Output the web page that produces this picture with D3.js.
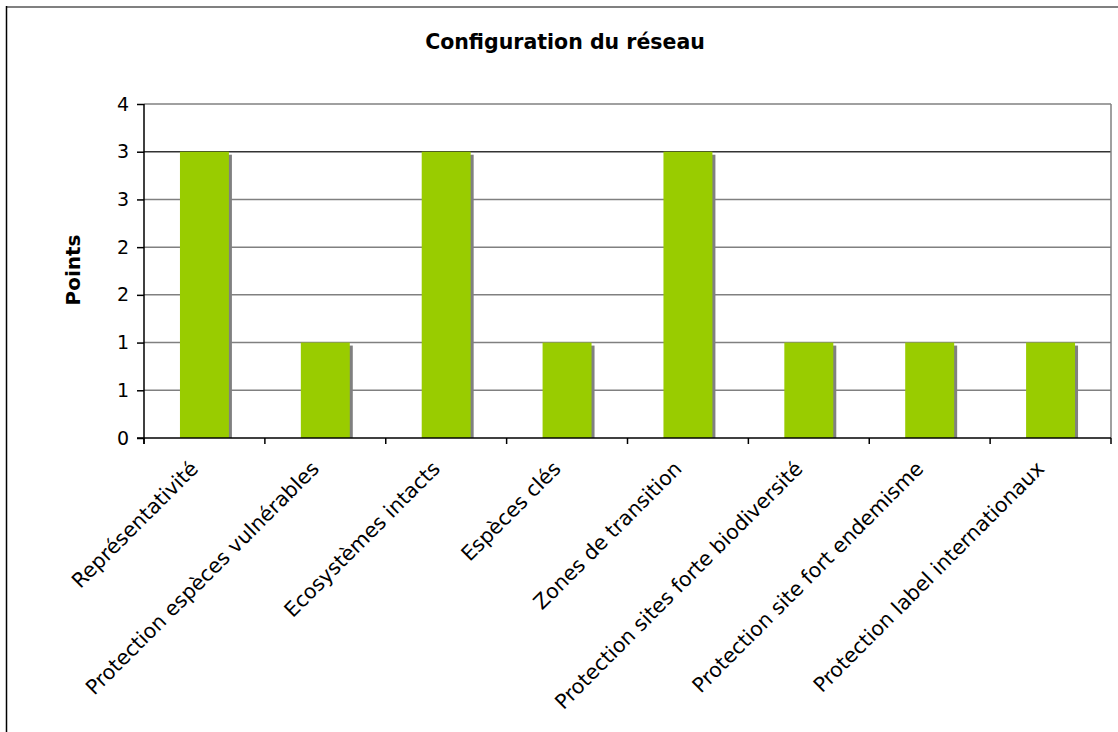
<!DOCTYPE html>
<html>
<head>
<meta charset="utf-8">
<script src="https://cdn.jsdelivr.net/npm/d3@7"></script>
<style>
  body { margin: 0; background: #fff; }
  svg { display: block; }
  text { font-family: "DejaVu Sans", Verdana, sans-serif; fill: #000; }
</style>
</head>
<body>
<svg id="chart"></svg>
<script>
// data
const categories = [
    "Représentativité",
    "Protection espèces vulnérables",
    "Ecosystèmes intacts",
    "Espèces clés",
    "Zones de transition",
    "Protection sites forte biodiversité",
    "Protection site fort endemisme",
    "Protection label internationaux"
];
const points = [3, 1, 3, 1, 3, 1, 1, 1];
const tickValues = [0, 0.5, 1, 1.5, 2, 2.5, 3, 3.5];
const tickLabels = ["0", "1", "1", "2", "2", "3", "3", "4"];

const W = 1118, H = 732;
const plot = {left: 144, right: 1111, top: 104, bottom: 438};

let svg = d3.select("#chart").attr("width", W).attr("height", H);

// outer frame (only left and top edges show)
svg.append("line")
    .attr("x1", 6).attr("x2", W).attr("y1", 7).attr("y2", 7)
    .attr("stroke", "#808080").attr("stroke-width", 2);
svg.append("line")
    .attr("x1", 6.5).attr("x2", 6.5).attr("y1", 6).attr("y2", H)
    .attr("stroke", "#000").attr("stroke-width", 1.5);

// title
svg.append("text")
    .attr("x", 565).attr("y", 49)
    .attr("text-anchor", "middle")
    .style("font-weight", "bold").style("font-size", "20.5px")
    .text("Configuration du réseau");

// y label
svg.append("text")
    .attr("transform", "translate(80,270) rotate(-90)")
    .attr("text-anchor", "middle")
    .style("font-weight", "bold").style("font-size", "20px")
    .text("Points");

let xScale = d3.scaleBand()
    .domain(categories)
    .range([plot.left, plot.right])
    .paddingInner(0.595)
    .paddingOuter(0.2975);

let yScale = d3.scaleLinear()
    .domain([0, 3.5])
    .range([plot.bottom, plot.top]);

// gridlines
svg.append("g").selectAll("line")
    .data(tickValues.filter(d => d > 0))
    .join("line")
    .attr("x1", plot.left).attr("x2", plot.right)
    .attr("y1", d => yScale(d)).attr("y2", d => yScale(d))
    .attr("stroke", d => d === 3 ? "#333" : "#808080")
    .attr("stroke-width", 1.5);

// right edge of plot
svg.append("line")
    .attr("x1", plot.right).attr("x2", plot.right)
    .attr("y1", plot.top).attr("y2", plot.bottom)
    .attr("stroke", "#808080").attr("stroke-width", 1.5);

// bars with shadow
let bars = svg.append("g").selectAll("g")
    .data(points)
    .join("g");

bars.append("rect")
    .attr("x", (d, i) => xScale(categories[i]) + 3)
    .attr("y", d => yScale(d) + 3)
    .attr("width", xScale.bandwidth())
    .attr("height", d => plot.bottom - yScale(d) - 3)
    .attr("fill", "#808080");

bars.append("rect")
    .attr("x", (d, i) => xScale(categories[i]))
    .attr("y", d => yScale(d))
    .attr("width", xScale.bandwidth())
    .attr("height", d => plot.bottom - yScale(d))
    .attr("fill", "#99cc00");

// y axis
let yAxis = d3.axisLeft(yScale)
    .tickValues(tickValues)
    .tickFormat((d, i) => tickLabels[i])
    .tickSize(7)
    .tickPadding(8);

let yAxisG = svg.append("g")
    .attr("transform", `translate(${plot.left},0)`)
    .call(yAxis);
yAxisG.select(".domain").remove();
yAxisG.append("line")
    .attr("x1", 0).attr("x2", 0)
    .attr("y1", plot.top).attr("y2", plot.bottom + 6)
    .attr("stroke", "#000").attr("stroke-width", 1.5);
yAxisG.selectAll(".tick line").attr("stroke", "#000").attr("stroke-width", 1.5);
yAxisG.selectAll("text")
    .style("font-size", "19px")
    .style("font-family", "DejaVu Sans, Verdana, sans-serif");

// x axis: ticks between categories
let step = xScale.step();
let boundaries = d3.range(categories.length + 1).map(i => plot.left + i * step);
svg.append("line")
    .attr("x1", plot.left - 7).attr("x2", plot.right)
    .attr("y1", plot.bottom).attr("y2", plot.bottom)
    .attr("stroke", "#000").attr("stroke-width", 1.5);
svg.append("g").selectAll("line")
    .data(boundaries)
    .join("line")
    .attr("x1", d => d).attr("x2", d => d)
    .attr("y1", plot.bottom).attr("y2", plot.bottom + 6)
    .attr("stroke", "#000").attr("stroke-width", 1.5);

// category labels
svg.append("g").selectAll("text")
    .data(categories)
    .join("text")
    .attr("transform", d => {
        let cx = xScale(d) + xScale.bandwidth() / 2;
        return `translate(${cx - 5},${plot.bottom + 32}) rotate(-45)`;
    })
    .attr("text-anchor", "end")
    .style("font-size", "20.5px")
    .text(d => d);
</script>
</body>
</html>
